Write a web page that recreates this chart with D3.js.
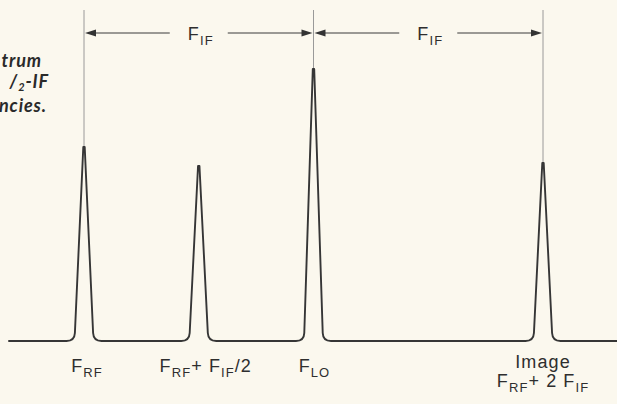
<!DOCTYPE html>
<html>
<head>
<meta charset="utf-8">
<script src="https://cdn.jsdelivr.net/npm/d3@7"></script>
<style>
  html, body { margin: 0; padding: 0; background: #fbf8ee; }
  svg { display: block; }
  .lbl { font-family: "Liberation Sans", Arial, sans-serif; fill: #2e2e2e; letter-spacing: 1.1px; }
  .cap { font-family: Lato, "Open Sans", sans-serif; font-weight: 700; font-style: italic; fill: #2a2a2a; letter-spacing: 0.9px; }
</style>
</head>
<body>
<script>
const width = 617;
const height = 404;

// peak positions in units of F_IF/2 above F_RF, and relative levels
const peakFreq = [0, 1, 2, 4];
const peakLevel = [194, 175, 272, 178];
const peakLabels = [
  [["F", ""], ["RF", "sub"]],
  [["F", ""], ["RF", "sub"], ["+ F", ""], ["IF", "sub"], ["/2", ""]],
  [["F", ""], ["LO", "sub"]],
  [["F", ""], ["RF", "sub"], ["+ 2 F", ""], ["IF", "sub"]]
];
const peakLabelShift = [3, 7, 1, 0];
const imageCaption = "Image";

// F_IF spans between the marker lines
const markerFreq = [0, 2, 4];
const spanLabel = [["F", ""], ["IF", "sub"]];

// visible part of the caption cut by the left edge
const captionLines = ["trum", "/2-IF", "ncies."];

const baseExtent = [-0.66, 4.7];

const x = d3.scaleLinear().domain([0, 4]).range([84, 543]);
const y = d3.scaleLinear().domain([0, 300]).range([341, 41]);

const svg = d3.select('body')
  .append('svg')
  .attr('width', width)
  .attr('height', height);

// marker guide lines
markerFreq.forEach(f => {
  const i = peakFreq.indexOf(f);
  svg.append('line')
    .attr('x1', x(f)).attr('x2', x(f))
    .attr('y1', 10).attr('y2', y(peakLevel[i]))
    .attr('stroke', '#8f8f8f')
    .attr('stroke-width', 0.9);
});

// spectrum trace
const by = y(0);
const w = 9.5, r = 8;
let d = 'M' + x(baseExtent[0]) + ',' + by;
peakFreq.forEach((f, i) => {
  const cx = x(f), ty = y(peakLevel[i]);
  const dx = w * r / (by - ty);
  d += 'L' + (cx - w - r) + ',' + by;
  d += 'Q' + (cx - w) + ',' + by + ' ' + (cx - w + dx) + ',' + (by - r);
  d += 'L' + (cx - 0.7) + ',' + ty;
  d += 'L' + (cx + 0.7) + ',' + ty;
  d += 'L' + (cx + w - dx) + ',' + (by - r);
  d += 'Q' + (cx + w) + ',' + by + ' ' + (cx + w + r) + ',' + by;
});
d += 'L' + x(baseExtent[1]) + ',' + by;

svg.append('path')
  .attr('d', d)
  .attr('fill', 'none')
  .attr('stroke', '#363636')
  .attr('stroke-width', 1.9)
  .attr('stroke-linejoin', 'round');

// dimension arrows
const arrowY = 33;
const gap = 29, headL = 11, headW = 3.5;
function addLabel(g, parts, subSize) {
  parts.forEach((p, j) => {
    const t = g.append('tspan').text(p[0]);
    if (p[1] === 'sub') t.attr('font-size', subSize).attr('dy', 5);
    else t.attr('dy', j > 0 ? -5 : 0);
  });
}
for (let k = 0; k < markerFreq.length - 1; k++) {
  const x0 = x(markerFreq[k]), x1 = x(markerFreq[k + 1]);
  const mid = (x0 + x1) / 2;
  svg.append('line').attr('x1', x0 + headL).attr('x2', mid - gap)
    .attr('y1', arrowY).attr('y2', arrowY).attr('stroke', '#3b3b3b').attr('stroke-width', 1);
  svg.append('line').attr('x1', mid + gap).attr('x2', x1 - headL)
    .attr('y1', arrowY).attr('y2', arrowY).attr('stroke', '#3b3b3b').attr('stroke-width', 1);
  svg.append('path')
    .attr('d', `M${x0 + 1},${arrowY}L${x0 + 1 + headL},${arrowY - headW}L${x0 + 1 + headL},${arrowY + headW}Z`)
    .attr('fill', '#333');
  svg.append('path')
    .attr('d', `M${x1 - 1},${arrowY}L${x1 - 1 - headL},${arrowY - headW}L${x1 - 1 - headL},${arrowY + headW}Z`)
    .attr('fill', '#333');
  const t = svg.append('text').attr('class', 'lbl')
    .attr('x', mid + 2).attr('y', 39.5)
    .attr('text-anchor', 'middle')
    .attr('font-size', 18);
  addLabel(t, spanLabel, 13);
}

// peak labels
peakFreq.forEach((f, i) => {
  const last = i === peakFreq.length - 1;
  if (last) {
    svg.append('text').attr('class', 'lbl')
      .attr('x', x(f)).attr('y', 368)
      .attr('text-anchor', 'middle')
      .attr('font-size', 18)
      .text(imageCaption);
  }
  const t = svg.append('text').attr('class', 'lbl')
    .attr('x', x(f) + peakLabelShift[i])
    .attr('y', last ? 387 : 372)
    .attr('text-anchor', 'middle')
    .attr('font-size', 18);
  addLabel(t, peakLabels[i], 13);
});

// caption fragment at left edge
svg.append('text').attr('class', 'cap').attr('x', 42).attr('y', 67)
  .attr('text-anchor', 'end').attr('font-size', 18).text(captionLines[0]);
const c2 = svg.append('text').attr('class', 'cap').attr('x', 49).attr('y', 88)
  .attr('text-anchor', 'end').attr('font-size', 18);
c2.append('tspan').text(captionLines[1].slice(0, 1));
c2.append('tspan').text(captionLines[1].slice(1, 2)).attr('font-size', 11).attr('dy', 3);
c2.append('tspan').text(captionLines[1].slice(2)).attr('dy', -3);
svg.append('text').attr('class', 'cap').attr('x', 47).attr('y', 112)
  .attr('text-anchor', 'end').attr('font-size', 18).text(captionLines[2]);
</script>
</body>
</html>
